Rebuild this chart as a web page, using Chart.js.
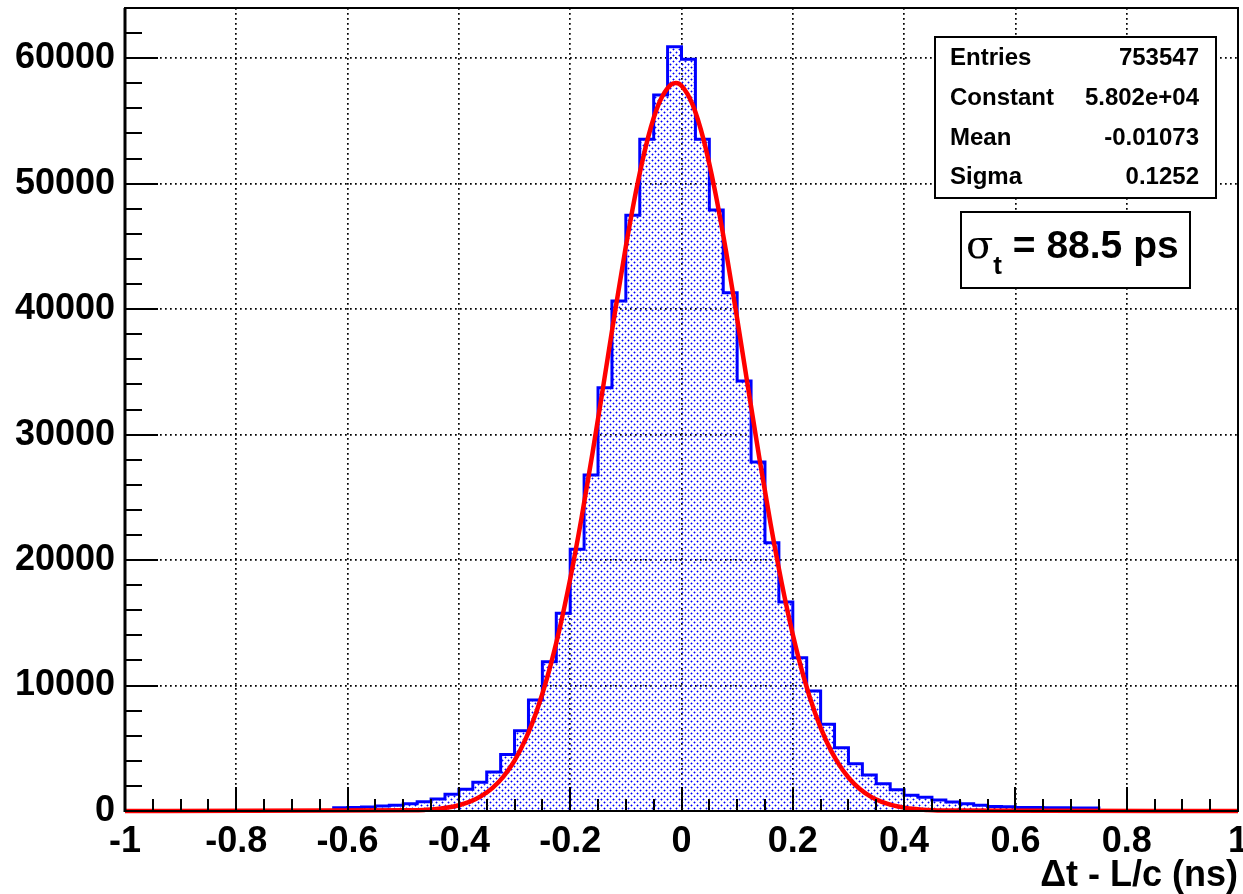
<!DOCTYPE html>
<html>
<head>
<meta charset="utf-8">
<script src="https://cdn.jsdelivr.net/npm/chart.js@4.4.1/dist/chart.umd.min.js"></script>
<style>
  html, body { margin: 0; padding: 0; background: #ffffff; }
  #wrap { width: 1243px; height: 894px; position: relative; }
</style>
</head>
<body>
<div id="wrap"><canvas id="c" width="1243" height="894"></canvas></div>
<script>
// ---- data ----
const binLow = -1;
const binWidth = 0.025;
const counts = [
  0, 0, 0, 0, 0, 0, 0, 0, 0, 0, 0, 0, 0, 0, 0,
  250, 270, 320, 390, 450, 580, 740, 950, 1330, 1730,
  2300, 3100, 4500, 6400, 8850, 11900, 15760, 20860, 26780, 33740,
  40650, 47480, 53530, 57070, 60910, 59910, 53530, 47900, 41310, 34270,
  27820, 21380, 16660, 12220, 9560, 6910, 5045, 3770, 2870, 2180,
  1700, 1250, 1100, 880, 720, 580, 460, 360, 330, 280,
  270, 260, 250, 240, 230,
  0, 0, 0, 0, 0, 0, 0, 0, 0, 0
];
const fitX = [-1, -0.48, -0.46, -0.44, -0.42, -0.40, -0.38, -0.36, -0.34, -0.32, -0.30,
  -0.28, -0.26, -0.24, -0.22, -0.20, -0.18, -0.16, -0.14, -0.12, -0.10,
  -0.08, -0.06, -0.04, -0.02, -0.01, 0, 0.02, 0.04, 0.06, 0.08, 0.10,
  0.12, 0.14, 0.16, 0.18, 0.20, 0.22, 0.24, 0.26, 0.28, 0.30,
  0.32, 0.34, 0.36, 0.38, 0.40, 0.42, 0.44, 0.46, 1];
const fitY = [0, 52, 93, 162, 277, 462, 749, 1184, 1825, 2745, 4018,
  5742, 7995, 10845, 14348, 18503, 23260, 28494, 34034, 39634, 44995,
  49781, 53692, 56454, 57860, 58020, 57807, 56297, 53448, 49463, 44624, 39239,
  33634, 28111, 22895, 18184, 14076, 10618, 7810, 5600, 3914, 2668,
  1770, 1147, 724, 445, 267, 156, 89, 49, 0];
const xTickValues = [-1, -0.8, -0.6, -0.4, -0.2, 0, 0.2, 0.4, 0.6, 0.8, 1];
const xTickLabels = ["-1", "-0.8", "-0.6", "-0.4", "-0.2", "0", "0.2", "0.4", "0.6", "0.8", "1"];
const yTickValues = [0, 10000, 20000, 30000, 40000, 50000, 60000];
const yTickLabels = ["0", "10000", "20000", "30000", "40000", "50000", "60000"];
const statLabels = ["Entries", "Constant", "Mean", "Sigma"];
const statValues = ["753547", "5.802e+04", "-0.01073", "0.1252"];
const xTitle = "\u0394t - L/c (ns)";
const sigmaSymbol = "\u03c3";
const sigmaSub = "t";
const sigmaText = " = 88.5 ps";

// ---- build datasets ----
const histData = counts.map((c, i) => ({ x: binLow + i * binWidth, y: c }));
histData.push({ x: binLow + counts.length * binWidth, y: counts[counts.length - 1] });
const fitData = fitX.map((x, i) => ({ x: x, y: fitY[i] }));

function dotPattern() {
  const c = document.createElement('canvas');
  c.width = 6; c.height = 6;
  const g = c.getContext('2d');
  g.fillStyle = 'rgba(0,0,255,1)';
  g.fillRect(1, 1, 1, 1);
  g.fillRect(4, 4, 1, 1);
  g.fillStyle = 'rgba(40,40,255,0.5)';
  g.fillRect(0, 1, 1, 1); g.fillRect(2, 1, 1, 1); g.fillRect(1, 0, 1, 1); g.fillRect(1, 2, 1, 1);
  g.fillRect(3, 4, 1, 1); g.fillRect(5, 4, 1, 1); g.fillRect(4, 3, 1, 1); g.fillRect(4, 5, 1, 1);
  return g.createPattern(c, 'repeat');
}

const FONT = '"Liberation Sans", Arial, Helvetica, sans-serif';

const framePlugin = {
  id: 'frame',
  afterDatasetsDraw(chart) {
    const ctx = chart.ctx;
    const a = chart.chartArea;
    const xs = chart.scales.x, ys = chart.scales.y;
    ctx.save();
    ctx.strokeStyle = '#000';
    ctx.lineWidth = 2;
    ctx.strokeRect(a.left, a.top, a.right - a.left, a.bottom - a.top);
    ctx.lineWidth = 3;
    ctx.beginPath(); ctx.moveTo(a.left, a.top); ctx.lineTo(a.left, a.bottom + 1); ctx.stroke();
    ctx.lineWidth = 2;
    ctx.beginPath(); ctx.moveTo(a.left, a.bottom); ctx.lineTo(a.right, a.bottom); ctx.stroke();
    // x ticks (inward)
    for (let k = 0; k <= 40; k++) {
      const v = -1 + k * 0.05;
      const px = Math.round(xs.getPixelForValue(v));
      const len = (k % 4 === 0) ? 24 : 12;
      ctx.beginPath(); ctx.moveTo(px, a.bottom); ctx.lineTo(px, a.bottom - len); ctx.stroke();
    }
    // y ticks (inward)
    for (let k = 0; k <= 32; k++) {
      const v = k * 2000;
      const py = Math.round(ys.getPixelForValue(v));
      const len = (k % 5 === 0) ? 33 : 17;
      ctx.beginPath(); ctx.moveTo(a.left, py); ctx.lineTo(a.left + len, py); ctx.stroke();
    }
    ctx.restore();
  },
  afterDraw(chart) {
    const ctx = chart.ctx;
    ctx.save();
    ctx.fillStyle = '#000';
    ctx.font = 'bold 36px ' + FONT;
    ctx.textAlign = 'right';
    ctx.textBaseline = 'alphabetic';
    ctx.fillText(xTitle, chart.chartArea.right, 886);

    // stats box
    ctx.fillStyle = '#fff';
    ctx.fillRect(935, 37, 281, 161);
    ctx.strokeStyle = '#000';
    ctx.lineWidth = 2;
    ctx.strokeRect(935, 37, 281, 161);
    ctx.fillStyle = '#000';
    ctx.font = 'bold 24px ' + FONT;
    ctx.textBaseline = 'middle';
    const rowY = [58, 98, 138, 177];
    for (let i = 0; i < statLabels.length; i++) {
      ctx.textAlign = 'left';
      ctx.fillText(statLabels[i], 950, rowY[i]);
      ctx.textAlign = 'right';
      ctx.fillText(statValues[i], 1199, rowY[i]);
    }

    // sigma box
    ctx.fillStyle = '#fff';
    ctx.fillRect(961, 212, 229, 76);
    ctx.strokeStyle = '#000';
    ctx.strokeRect(961, 212, 229, 76);
    ctx.fillStyle = '#000';
    ctx.textBaseline = 'alphabetic';
    ctx.textAlign = 'left';
    let x = 966;
    ctx.font = '40px "DejaVu Serif", "Liberation Serif", serif';
    ctx.fillText(sigmaSymbol, x, 258);
    x += ctx.measureText(sigmaSymbol).width;
    ctx.font = 'bold 26px ' + FONT;
    ctx.fillText(sigmaSub, x, 274);
    x += ctx.measureText(sigmaSub).width;
    ctx.font = 'bold 39px ' + FONT;
    ctx.fillText(sigmaText, x, 258);
    ctx.restore();
  }
};

new Chart(document.getElementById('c'), {
  type: 'line',
  data: {
    datasets: [
      {
        label: 'fit',
        data: fitData,
        borderColor: '#ff0000',
        borderWidth: 4.5,
        pointRadius: 0,
        fill: false,
        cubicInterpolationMode: 'monotone',
        clip: { left: 0, top: 0, right: 0, bottom: 6 },
        order: 0
      },
      {
        label: 'hist',
        data: histData,
        stepped: 'before',
        borderColor: '#0000ff',
        borderWidth: 3,
        pointRadius: 0,
        backgroundColor: dotPattern(),
        fill: 'origin',
        order: 1
      }
    ]
  },
  options: {
    responsive: false,
    devicePixelRatio: 1,
    animation: false,
    layout: { autoPadding: false, padding: { top: 8, right: 5, left: 0, bottom: 0 } },
    plugins: { legend: { display: false }, tooltip: { enabled: false }, title: { display: false } },
    scales: {
      x: {
        type: 'linear',
        bounds: 'data',
        min: -1, max: 1,
        afterBuildTicks(scale) { scale.ticks = xTickValues.map(v => ({ value: v })); },
        afterFit(scale) { scale.height = 83; scale.paddingLeft = 0; scale.paddingRight = 0; },
        ticks: {
          autoSkip: false,
          maxRotation: 0,
          padding: 9,
          color: '#000',
          font: { family: FONT, size: 36, weight: 'bold' },
          callback: (v, i) => xTickLabels[i]
        },
        grid: {
          drawTicks: false,
          lineWidth: 1.7,
          color: (c) => (c.tick && Math.abs(Math.abs(c.tick.value) - 1) < 1e-6) ? 'rgba(0,0,0,0)' : '#000'
        },
        border: { display: false, dash: [1.7, 3.3] }
      },
      y: {
        type: 'linear',
        bounds: 'data',
        min: 0, max: 64000,
        afterBuildTicks(scale) { scale.ticks = yTickValues.map(v => ({ value: v })); },
        afterFit(scale) { scale.width = 125; scale.paddingTop = 0; scale.paddingBottom = 0; },
        ticks: {
          autoSkip: false,
          padding: 10,
          color: '#000',
          font: { family: FONT, size: 36, weight: 'bold' },
          callback: (v, i) => yTickLabels[i]
        },
        grid: {
          drawTicks: false,
          lineWidth: 1.7,
          color: (c) => (c.tick && c.tick.value === 0) ? 'rgba(0,0,0,0)' : '#000'
        },
        border: { display: false, dash: [1.7, 3.3] }
      }
    }
  },
  plugins: [framePlugin]
});
</script>
</body>
</html>
